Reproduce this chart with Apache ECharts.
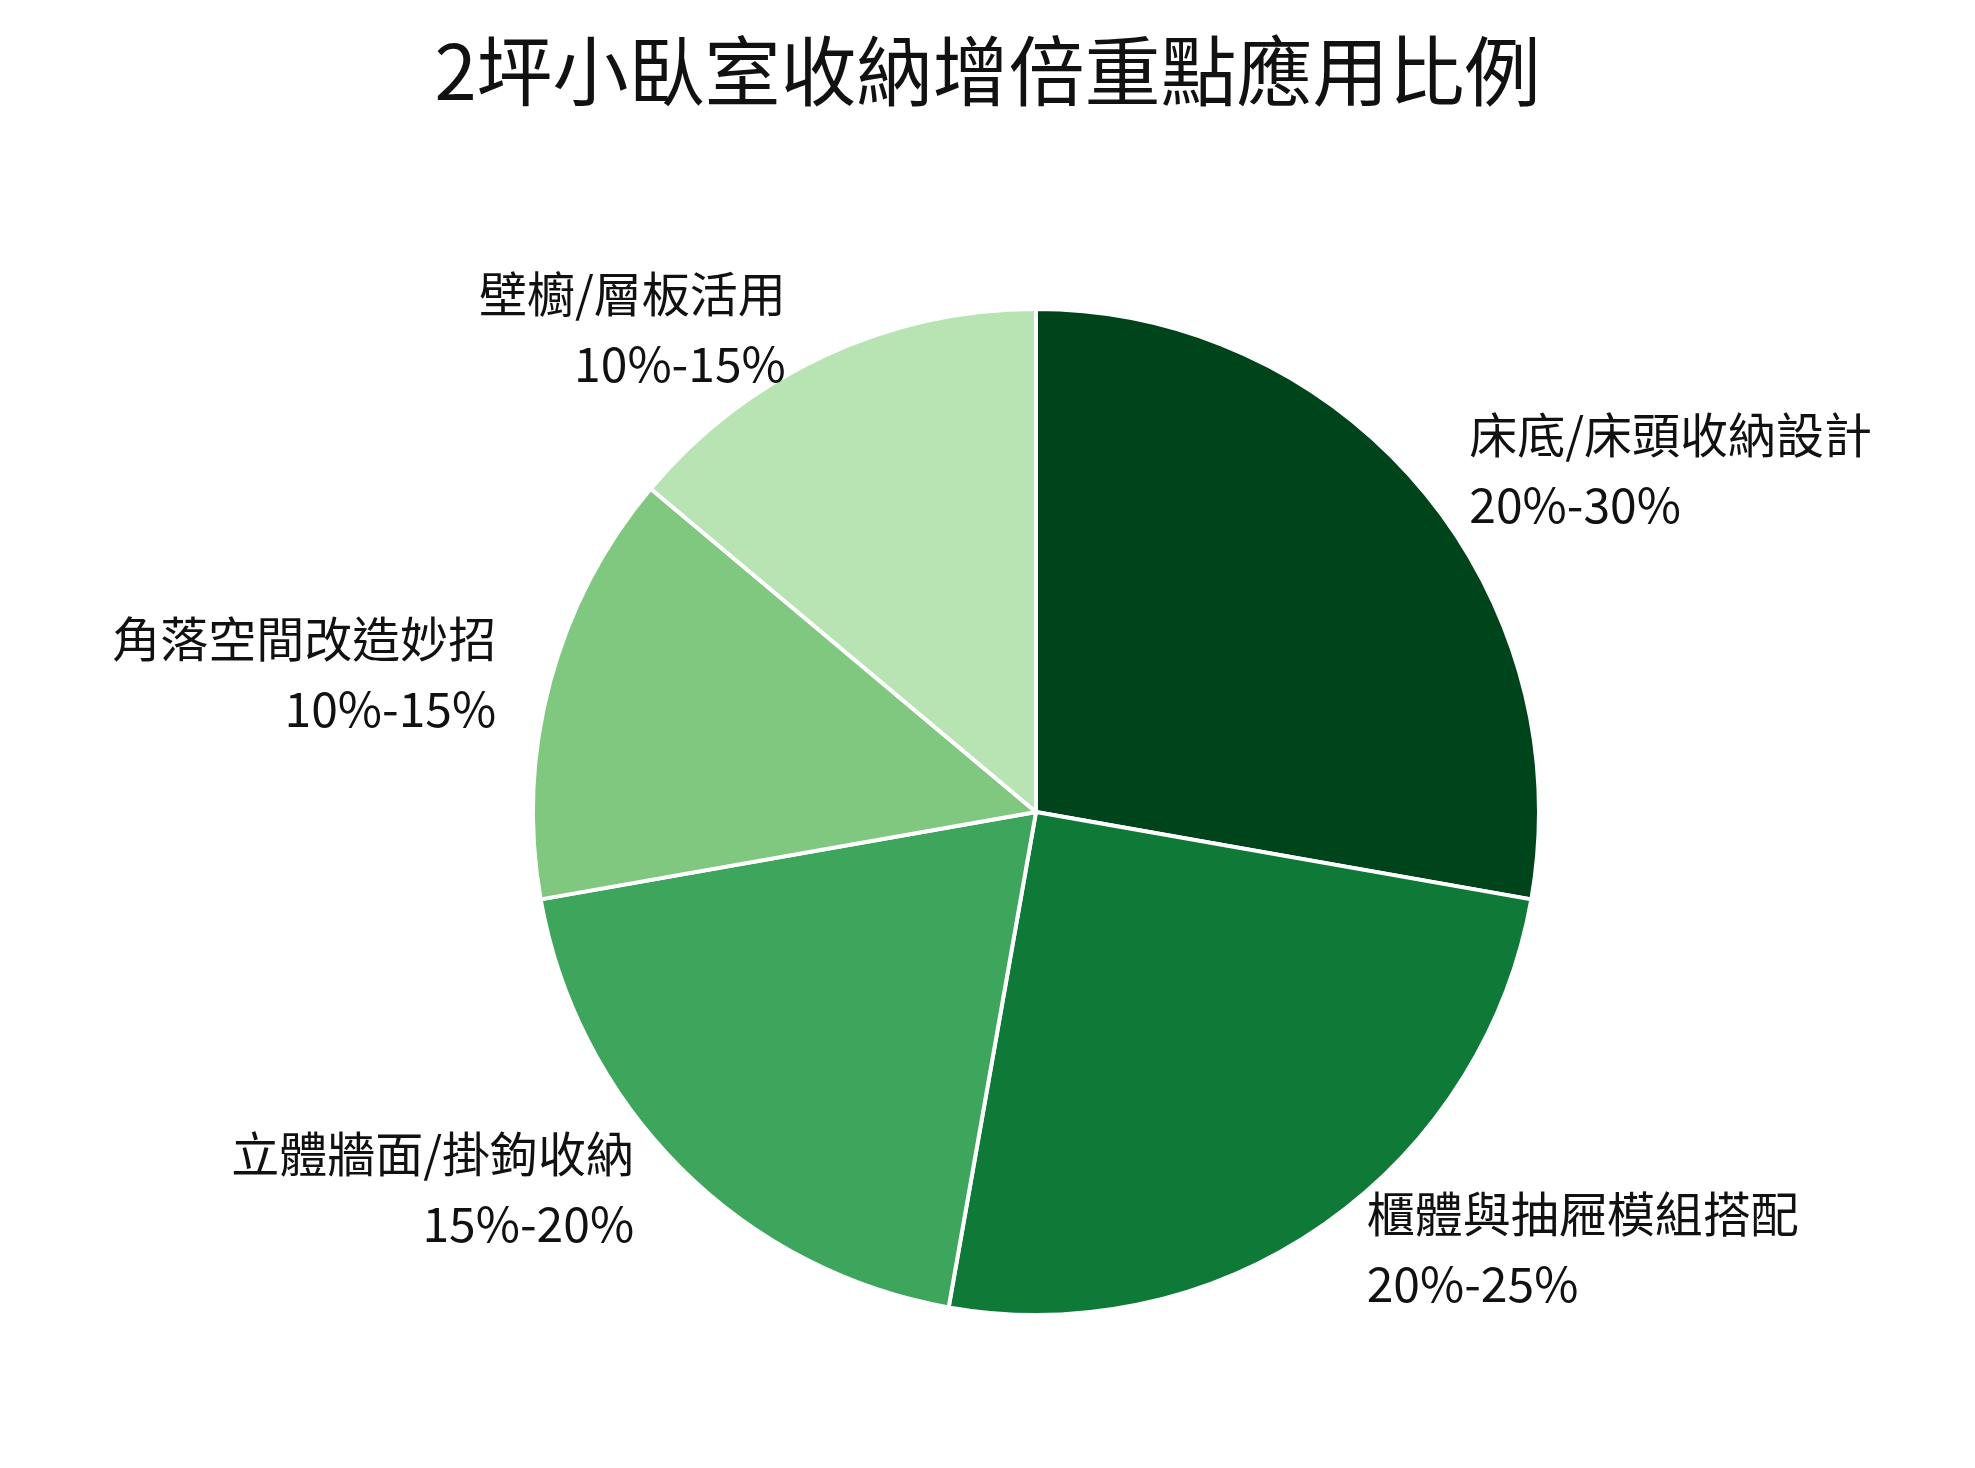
<!DOCTYPE html>
<html><head><meta charset="utf-8">
<script src="https://cdn.jsdelivr.net/npm/echarts@6/dist/echarts.min.js"></script>
<style>html,body{margin:0;background:#fff}#c{width:1975px;height:1468px}</style>
</head><body><div id="c"></div>
<script>
const categories = ['床底/床頭收納設計','櫃體與抽屜模組搭配','立體牆面/掛鉤收納','角落空間改造妙招','壁櫥/層板活用'];
const ranges = ['20%-30%','20%-25%','15%-20%','10%-15%','10%-15%'];
const values = [25, 22.5, 17.5, 12.5, 12.5];
const colors = ['#00441b','#0f7a37','#3ea55c','#80c880','#b8e3b2'];
const chart = echarts.init(document.getElementById('c'));
chart.setOption({
  textStyle:{fontFamily:'"Noto Sans CJK TC","Noto Sans",sans-serif'},
  title:{text:'2坪小臥室收納增倍重點應用比例',left:'center',top:28,
    textStyle:{fontSize:76,fontWeight:'normal',color:'#111',fontFamily:'"Noto Sans CJK TC",sans-serif'}},
  series:[{
    type:'pie',center:[1036,812],radius:503,startAngle:90,clockwise:true,
    itemStyle:{borderColor:'#fff',borderWidth:4},
    label:{show:true,position:'outside',formatter:p=>p.name+'\n'+ranges[p.dataIndex],
      fontSize:48,lineHeight:70,color:'#111',fontFamily:'"Noto Sans CJK TC",sans-serif'},
    labelLine:{show:false,length:30,length2:20},
    data:categories.map((c,i)=>({name:c,value:values[i],itemStyle:{color:colors[i]}}))
  }]
});
</script></body></html>
